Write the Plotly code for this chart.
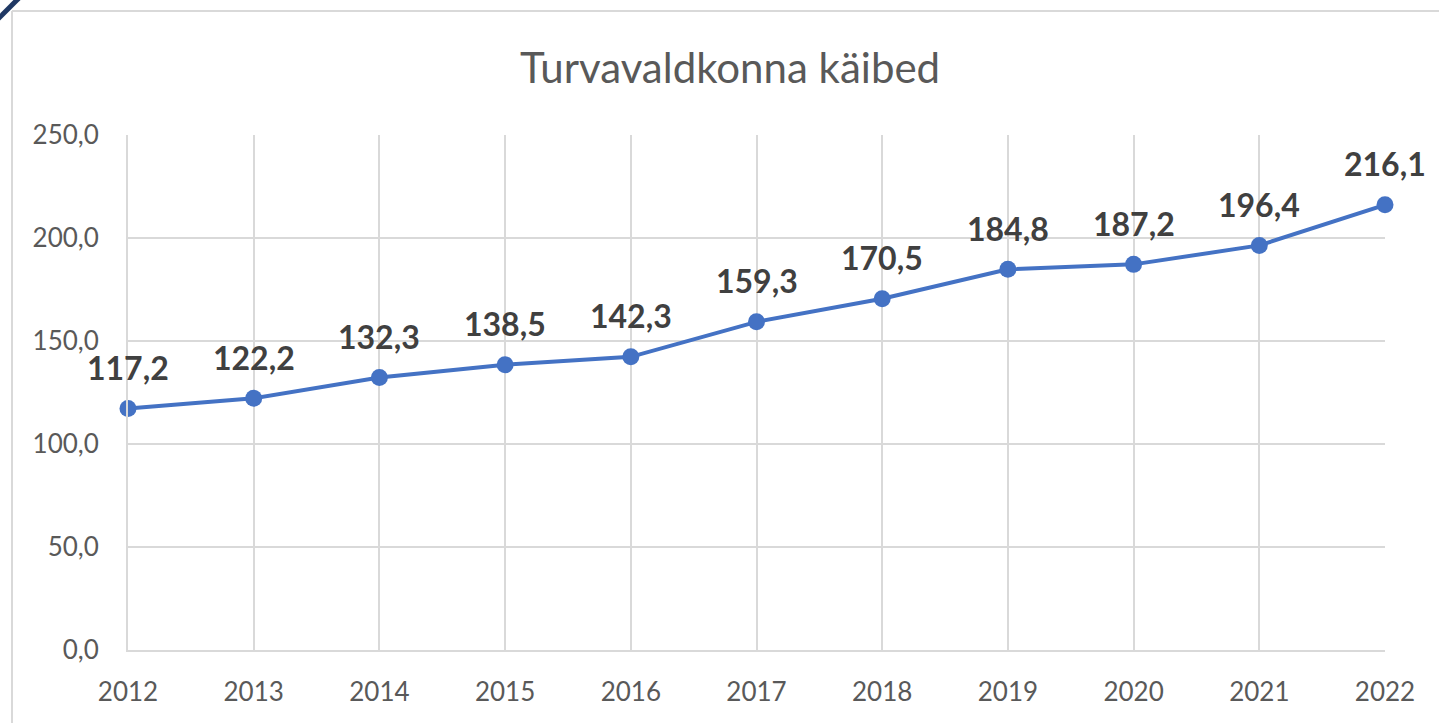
import plotly.graph_objects as go

years = [2012, 2013, 2014, 2015, 2016, 2017, 2018, 2019, 2020, 2021, 2022]
turnover = [117.2, 122.2, 132.3, 138.5, 142.3, 159.3, 170.5, 184.8, 187.2, 196.4, 216.1]
y_ticks = [0, 50, 100, 150, 200, 250]
title_text = "Turvavaldkonna käibed"

W, H = 1439, 723
L, R, T, B = 128, 54, 135, 73
pw, ph = W - L - R, H - T - B

def px(x):
    return (x - L) / pw

def py(y):
    return (H - B - y) / ph

FONT = "Lato"
LINE_BLUE = "#4472C4"
GRID = "#D9D9D9"
TXT = "#595959"

fig = go.Figure()
fig.add_trace(go.Scatter(
    x=years, y=turnover, mode="lines+markers",
    line=dict(color=LINE_BLUE, width=4),
    marker=dict(color=LINE_BLUE, size=17),
    cliponaxis=False, hoverinfo="x+y", showlegend=False,
))

annotations = []
for xv, yv in zip(years, turnover):
    annotations.append(dict(
        x=xv, y=yv, xref="x", yref="y",
        text=f"<b>{yv:.1f}</b>".replace(".", ","),
        showarrow=False, yshift=41, xanchor="center", yanchor="middle",
        font=dict(family=FONT, size=32, color="#404040"),
    ))

shapes = [
    dict(type="line", xref="paper", yref="paper",
         x0=px(12), y0=py(H + 5), x1=px(12), y1=py(11),
         line=dict(color=GRID, width=2)),
    dict(type="line", xref="paper", yref="paper",
         x0=px(12), y0=py(11), x1=px(W + 5), y1=py(11),
         line=dict(color=GRID, width=2)),
    dict(type="line", xref="paper", yref="paper",
         x0=px(-2), y0=py(19), x1=px(19), y1=py(-2),
         line=dict(color="#1F3864", width=5)),
]

fig.update_layout(
    width=W, height=H,
    margin=dict(l=L, r=R, t=T, b=B, autoexpand=False),
    paper_bgcolor="white", plot_bgcolor="white",
    separators=", ",
    title=dict(text=title_text, x=730 / W, xanchor="center",
               y=1 - 68 / H, yanchor="middle",
               font=dict(family=FONT, size=42, color=TXT)),
    annotations=annotations,
    shapes=shapes,
    font=dict(family=FONT, color=TXT),
)

fig.update_xaxes(
    range=[2012, 2022], tickvals=years, ticktext=[str(y) for y in years],
    showgrid=True, gridcolor=GRID, gridwidth=2,
    showline=True, linecolor=GRID, linewidth=2,
    zeroline=False, ticks="", ticklabelstandoff=18,
    tickfont=dict(family=FONT, size=26, color=TXT),
)
fig.update_yaxes(
    range=[0, 250], tickvals=y_ticks, tickformat=".1f",
    showgrid=True, gridcolor=GRID, gridwidth=2,
    showline=True, linecolor=GRID, linewidth=2,
    zeroline=False, ticks="", ticklabelstandoff=22,
    tickfont=dict(family=FONT, size=26, color=TXT),
)

fig.write_html("out.html", config={"displayModeBar": False},
               post_script="document.body.style.margin='0';document.body.style.overflow='hidden';")
